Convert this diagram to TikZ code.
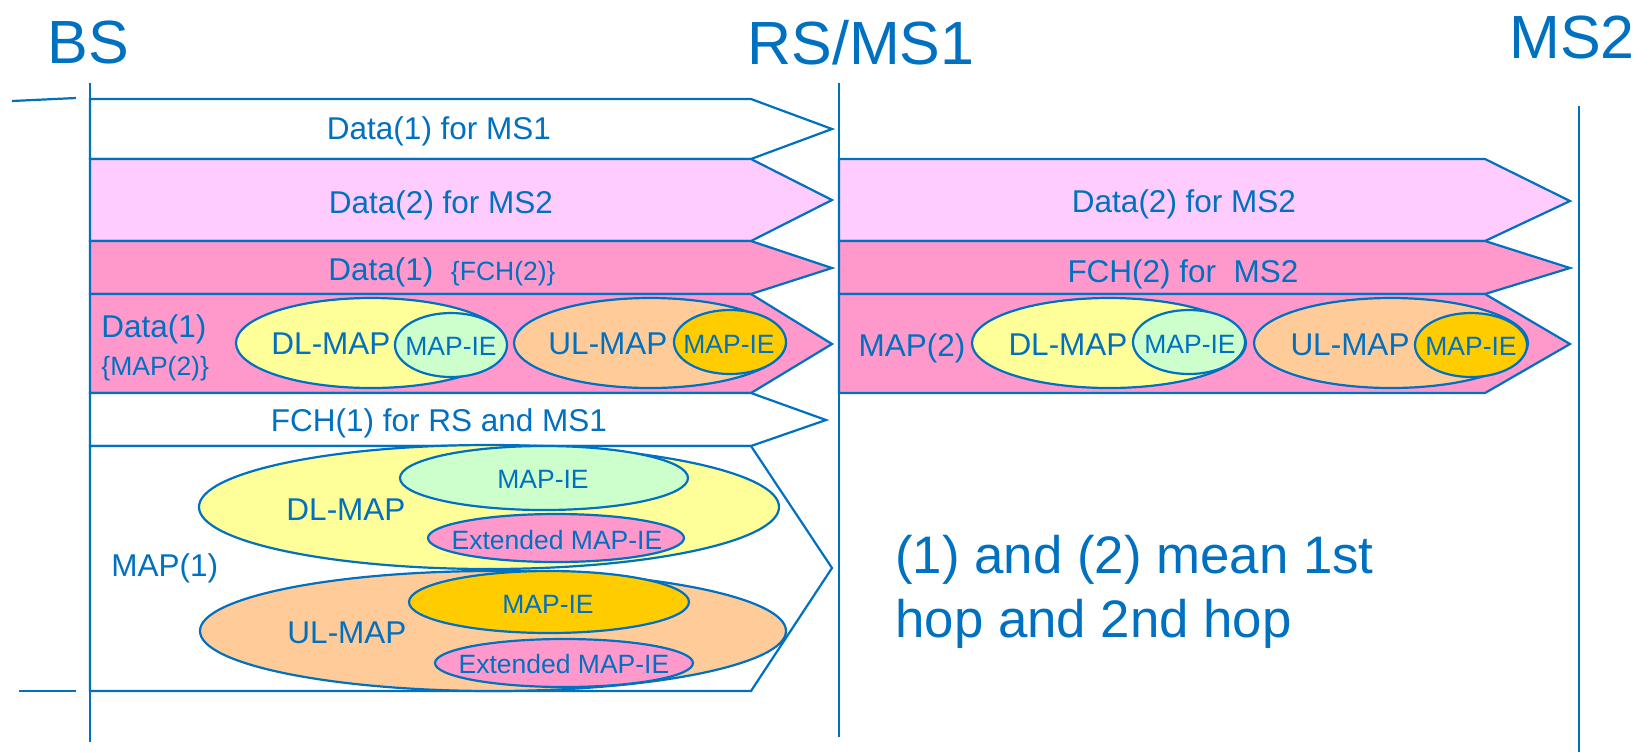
\documentclass[tikz,border=0pt]{standalone}
\usepackage{fontspec}
\setmainfont{Liberation Sans}
\definecolor{lineblue}{RGB}{0,112,192}
\definecolor{textblue}{RGB}{0,112,192}
\definecolor{lightpink}{RGB}{255,204,255}
\definecolor{rosepink}{RGB}{255,153,204}
\definecolor{paleyellow}{RGB}{255,255,153}
\definecolor{palegreen}{RGB}{204,255,204}
\definecolor{paleorange}{RGB}{255,204,153}
\definecolor{gold}{RGB}{255,204,0}
\begin{document}
\begin{tikzpicture}[x=0.5pt,y=-0.5pt,
  ln/.style={draw=lineblue, line width=1.1pt, line join=miter},
  txt/.style={text=textblue, inner sep=0pt, anchor=base, font=\fontsize{15.75}{18}\selectfont},
  smalltxt/.style={txt, font=\fontsize{13.25}{16}\selectfont},
  head/.style={txt, font=\fontsize{30.5}{36}\selectfont},
  note/.style={txt, anchor=base west, font=\fontsize{26.4}{32}\selectfont}]
\useasboundingbox (0,0) rectangle (1650,752);

% ---- left blocks (BS -> RS/MS1)
\path[ln, fill=white]      (90,99)  -- (751,99)  -- (832,129) -- (751,159) -- (90,159) -- cycle;
\path[ln, fill=lightpink]  (90,159) -- (751,159) -- (832,200) -- (751,241) -- (90,241) -- cycle;
\path[ln, fill=rosepink]   (90,241) -- (751,241) -- (832,268) -- (751,294) -- (90,294) -- cycle;
\path[ln, fill=rosepink]   (90,294) -- (751,294) -- (832,344) -- (751,393) -- (90,393) -- cycle;
\path[ln, fill=white]      (90,393) -- (751,393) -- (826,420) -- (751,446) -- (90,446) -- cycle;
\path[ln, fill=white]      (90,446) -- (751,446) -- (832,568) -- (751,691) -- (90,691) -- cycle;

% ---- right blocks (RS/MS1 -> MS2)
\path[ln, fill=lightpink]  (839,159) -- (1485,159) -- (1570,201) -- (1485,241) -- (839,241) -- cycle;
\path[ln, fill=rosepink]   (839,241) -- (1485,241) -- (1570,268) -- (1485,294) -- (839,294) -- cycle;
\path[ln, fill=rosepink]   (839,294) -- (1485,294) -- (1570,344) -- (1485,393) -- (839,393) -- cycle;

% ---- ellipses, left block 4
\path[ln, fill=paleyellow] (371,343) ellipse [x radius=135, y radius=45];
\path[ln, fill=palegreen]  (451,345) ellipse [x radius=56, y radius=32];
\path[ln, fill=paleorange] (650,343) ellipse [x radius=136, y radius=45];
\path[ln, fill=gold]       (730,342) ellipse [x radius=56, y radius=32];

% ---- ellipses, right block 3
\path[ln, fill=paleyellow] (1109,343) ellipse [x radius=137, y radius=45];
\path[ln, fill=palegreen]  (1189,342) ellipse [x radius=56, y radius=32];
\path[ln, fill=paleorange] (1391,343) ellipse [x radius=137, y radius=45];
\path[ln, fill=gold]       (1471,345) ellipse [x radius=56, y radius=32];

% ---- ellipses, MAP(1)
\path[ln, fill=paleyellow] (489,507) ellipse [x radius=290, y radius=62];
\path[ln, fill=palegreen]  (544,478) ellipse [x radius=144, y radius=32];
\path[ln, fill=rosepink]   (556,538) ellipse [x radius=128, y radius=24];
\path[ln, fill=paleorange] (493,631) ellipse [x radius=293, y radius=60];
\path[ln, fill=gold]       (549,602) ellipse [x radius=140, y radius=31];
\path[ln, fill=rosepink]   (564,663) ellipse [x radius=129, y radius=24];

% ---- life lines and ticks
\coordinate (bsTop) at (90,83);   \coordinate (bsBot) at (90,742);
\coordinate (rsTop) at (839,83);  \coordinate (rsBot) at (839,737);
\coordinate (msTop) at (1579,106); \coordinate (msBot) at (1579,752);
\draw[ln] (bsTop) -- (bsBot);
\draw[ln] (rsTop) -- (rsBot);
\draw[ln] (msTop) -- (msBot);
\coordinate (t1a) at (12,101); \coordinate (t1b) at (76,98);
\coordinate (t2a) at (19,691); \coordinate (t2b) at (76,691);
\draw[ln] (t1a) -- (t1b);
\draw[ln] (t2a) -- (t2b);

% ---- headings
\node[head] (bs) at (88,63) {BS};
\node[head] (rs) at (861,64) {RS/MS1};
\node[head] (ms2) at (1572,58) {MS2};

% ---- left texts
\node[txt] (d1) at (439,139) {Data(1) for MS1};
\node[txt] (d2) at (441,213) {Data(2) for MS2};
\node[txt] (d3) at (442,280) {Data(1)\ \ {\fontsize{13.25}{16}\selectfont\{FCH(2)\}}};
\node[txt, anchor=base west] (d4a) at (101,337) {Data(1)};
\node[smalltxt, anchor=base west] (d4b) at (101,375) {\{MAP(2)\}};
\node[txt] (dl4) at (331,354) {DL-MAP};
\node[smalltxt] (ie4a) at (451,355) {MAP-IE};
\node[txt] (ul4) at (608,354) {UL-MAP};
\node[smalltxt] (ie4b) at (729,353) {MAP-IE};
\node[txt] (fch1) at (439,431) {FCH(1) for RS and MS1};
\node[txt, anchor=base west] (map1) at (111,576) {MAP(1)};
\node[txt] (dl6) at (346,520) {DL-MAP};
\node[smalltxt] (ie6a) at (543,488) {MAP-IE};
\node[smalltxt] (ex6a) at (557,549) {Extended MAP-IE};
\node[txt] (ul6) at (347,643) {UL-MAP};
\node[smalltxt] (ie6b) at (548,613) {MAP-IE};
\node[smalltxt] (ex6b) at (564,673) {Extended MAP-IE};

% ---- right texts
\node[txt] (r1) at (1184,212) {Data(2) for MS2};
\node[txt] (r2) at (1183,282) {FCH(2) for\ \ MS2};
\node[txt] (map2) at (912,356) {MAP(2)};
\node[txt] (dlr) at (1068,355) {DL-MAP};
\node[smalltxt] (ier1) at (1190,353) {MAP-IE};
\node[txt] (ulr) at (1350,355) {UL-MAP};
\node[smalltxt] (ier2) at (1471,355) {MAP-IE};

% ---- note
\node[note] (n1) at (895,573) {(1) and (2) mean 1st};
\node[note] (n2) at (895,637) {hop and 2nd hop};
\end{tikzpicture}
\end{document}
